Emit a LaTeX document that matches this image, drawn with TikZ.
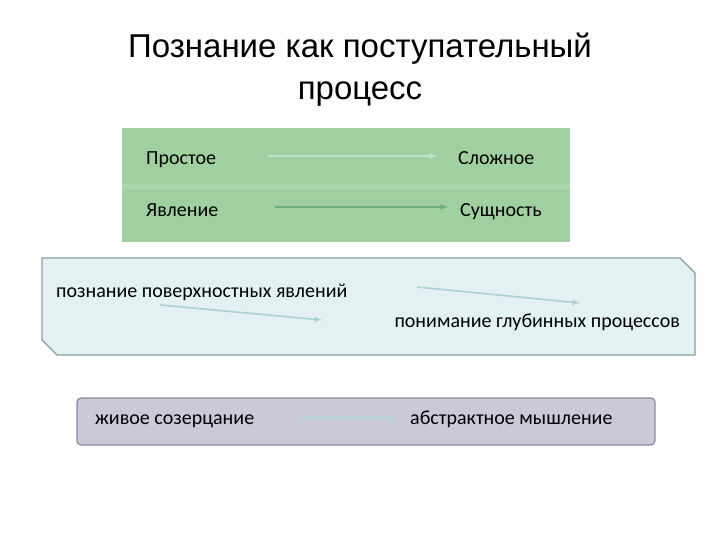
\documentclass[tikz,border=0pt]{standalone}
\usepackage{fontspec}
\setmainfont{Carlito}
\newfontfamily\titlefont{Liberation Sans}
\definecolor{gfill}{RGB}{160,208,160}
\definecolor{gstripe}{RGB}{172,214,172}
\definecolor{garr1}{RGB}{190,226,210}
\definecolor{garr2}{RGB}{110,175,130}
\definecolor{bfill}{RGB}{227,241,243}
\definecolor{bdraw}{RGB}{130,160,160}
\definecolor{barr}{RGB}{170,210,212}
\definecolor{pfill}{RGB}{201,201,216}
\definecolor{pdraw}{RGB}{138,138,160}
\definecolor{parr}{RGB}{180,215,225}
\begin{document}
\begin{tikzpicture}[x=1pt,y=-1pt,
  txt/.style={font=\fontsize{20}{24}\selectfont, inner sep=0pt, anchor=base west},
  arr/.style={-latex, line width=1.6pt},
  every node/.style={inner sep=0pt}]
\useasboundingbox (0,0) rectangle (720,540);
\fill[white] (0,0) rectangle (720,540);
\node[font=\titlefont\fontsize{33}{42}\selectfont, align=center] (title) at (360,70) {Познание как поступательный\\процесс};
% green box
\fill[gfill] (122,128) rectangle (570,242);
\fill[gstripe] (122,184) rectangle (570,189);
\node[txt] (a1) at (146,165) {Простое};
\node[txt] (b1) at (458,165) {Сложное};
\node[txt] (a2) at (146,217) {Явление};
\node[txt] (b2) at (460,217) {Сущность};
\coordinate (a1s) at (268,156); \coordinate (a1t) at (437,156);
\coordinate (a2s) at (275,207); \coordinate (a2t) at (448,207);
\draw[arr, draw=garr1] (a1s) -- (a1t);
\draw[arr, draw=garr2] (a2s) -- (a2t);
% blue box
\draw[fill=bfill, draw=bdraw, line width=1.2pt]
  (42,258) -- (680,258) -- (695,273) -- (695,355) -- (57,355) -- (42,340) -- cycle;
\node[txt] (c1) at (56,297) {познание поверхностных явлений};
\node[txt, anchor=base east] (c2) at (680,327) {понимание глубинных процессов};
\coordinate (c1e) at (417,287);
\coordinate (c1t) at (580,303);
\coordinate (c2s) at (160,305);
\coordinate (c2t) at (322,320);
\draw[arr, draw=barr] (c1e) -- (c1t);
\draw[arr, draw=barr] (c2s) -- (c2t);
% purple box
\draw[rounded corners=4pt, fill=pfill, draw=pdraw, line width=1.2pt]
  (77,398) rectangle (655,445);
\node[txt] (d1) at (95,424) {живое созерцание};
\node[txt] (d2) at (410,424) {абстрактное мышление};
\coordinate (ds) at (300,418); \coordinate (dt) at (396,418);
\draw[arr, draw=parr] (ds) -- (dt);
\end{tikzpicture}
\end{document}
